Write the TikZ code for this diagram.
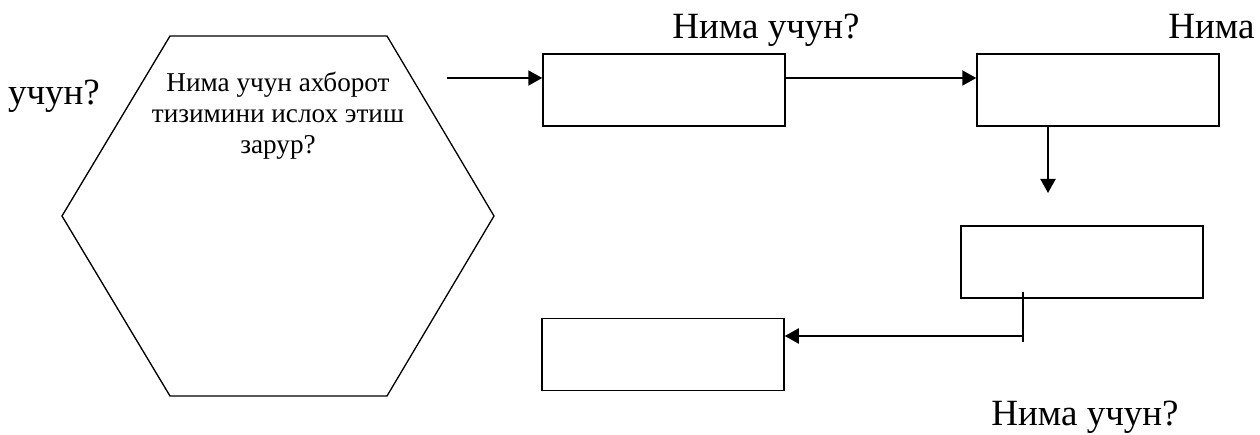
\documentclass[tikz,border=0pt]{standalone}
\usepackage{fontspec}
\setmainfont{Liberation Serif}
\usetikzlibrary{arrows.meta}

\begin{document}
\begin{tikzpicture}[x=1pt, y=-1pt,
    blok/.style={draw, line width=1.5pt, minimum width=242pt, minimum height=72pt, inner sep=0pt},
    savol/.style={anchor=base, inner sep=0pt, font=\fontsize{37}{44}\selectfont},
    strelka/.style={line width=2pt, -{Triangle[length=14pt, width=15pt]}}]
\useasboundingbox (0, 0) rectangle (1260, 435);
\draw[line width=1.3pt] (170, 36) -- (387, 36) -- (494, 216) -- (387, 396) -- (170, 396) -- (62, 216) -- cycle;
\node (hex) [align=center, inner sep=0pt, font=\fontsize{27.2}{31}\selectfont] at (278, 116){Нима учун ахборот\\тизимини ислох этиш\\зарур?};
\node (box0) [blok] at (664, 90){};
\node (box00) [blok] at (1098, 90){};
\node (box000) [blok] at (1082, 262){};
\node (box0000) [blok] at (663, 354.5){};
\node (savol0) [savol] at (766, 39){Нима учун?};
\node (savol1) [savol] at (1211.5, 39){Нима};
\node (savol2) [savol] at (54, 105){учун?};
\node (savol3) [savol] at (1085, 425){Нима учун?};
\coordinate (kirish) at (447, 78);
\coordinate (past) at (1048, 193);
\coordinate (ustun) at (1023, 292);
\coordinate (tag) at (1023, 342);
\coordinate (burilish) at (1023, 336);
\draw[strelka] (kirish) -- (kirish -| box0.west);
\draw[strelka] (box0.east |- kirish) -- (box00.west |- kirish);
\draw[strelka] (past |- box00.south) -- (past);
\draw[line width=1.5pt] (ustun) -- (tag);
\draw[strelka] (burilish) -- (burilish -| box0000.east);
\end{tikzpicture}
\end{document}
